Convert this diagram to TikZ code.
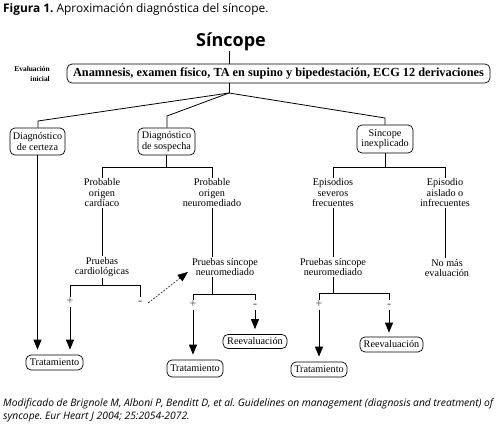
\documentclass[tikz,border=0pt]{standalone}
\usepackage{fontspec}
\setmainfont{Liberation Serif}
\newfontfamily\hsans{Open Sans}
\usetikzlibrary{arrows.meta,calc}
\frenchspacing
\begin{document}
\begin{tikzpicture}[x=1pt,y=-1pt,
  box/.style={draw,rounded corners=5pt,line width=0.7pt,align=center,inner sep=0pt,font=\fontsize{10.2}{10.5}\selectfont},
  lbl/.style={align=center,inner sep=1pt,font=\fontsize{10.2}{10.5}\selectfont},
  ln/.style={line width=0.8pt},
  arr/.style={line width=0.9pt,-{Triangle[width=8pt,length=10pt]}},
  pm/.style={inner sep=1pt,text height=6.5pt,text depth=1pt,font=\fontsize{12}{12}\selectfont,text=black!75}
]
\useasboundingbox (0,0) rectangle (499,430);
% title
\node[anchor=west,font=\hsans\fontsize{11.9}{13}\selectfont,inner sep=0pt] (title) at (3,9) {\textbf{Figura 1.} Aproximación diagnóstica del síncope.};
\node[font=\hsans\bfseries\fontsize{18}{18}\selectfont,inner sep=0pt] (sinc) at (231,42) {Síncope};
\node[anchor=east,align=right,font=\bfseries\fontsize{7.4}{9.5}\selectfont,inner sep=0pt] (evi) at (50,74) {Evaluación\\inicial};
\node[box,minimum width=423pt,minimum height=19pt,font=\bfseries\fontsize{12.3}{13}\selectfont] (main) at (278.5,73.5) {Anamnesis, examen físico, TA en supino y bipedestación, ECG 12 derivaciones};
% level 2
\node[box,minimum width=55pt,minimum height=27pt] (cert) at (37.5,141.5) {Diagnóstico\\de certeza};
\node[box,minimum width=57pt,minimum height=27pt] (sosp) at (166.5,141.5) {Diagnóstico\\de sospecha};
\node[box,minimum width=56pt,minimum height=28pt] (inex) at (385,139) {Síncope\\inexplicado};
% level 3
\node[lbl] (pcard) at (102,193) {Probable\\origen\\cardíaco};
\node[lbl] (pneuro) at (212,193) {Probable\\origen\\neuromediado};
\node[lbl] (epis) at (333,193) {Episodios\\severos\\frecuentes};
\node[lbl] (aisl) at (445,193) {Episodio\\aislado o\\infrecuentes};
% level 4
\node[lbl] (pcrd) at (102,267) {Pruebas\\cardiológicas};
\node[lbl] (pn1) at (225,267) {Pruebas síncope\\neuromediado};
\node[lbl] (pn2) at (333,267) {Pruebas síncope\\neuromediado};
\node[lbl] (nomas) at (447,268) {No más\\evaluación};
% plus / minus
\node[pm] (plus1) at (70,302) {+};
\node[pm] (minus1) at (140,302) {-};
\node[pm] (plus2) at (193,305) {+};
\node[pm] (minus2) at (255,305) {-};
\node[pm] (plus3) at (319,305) {+};
\node[pm] (minus3) at (389,305) {-};
% terminal boxes
\node[box,minimum width=57pt,minimum height=15pt] (trat1) at (54.5,362.5) {Tratamiento};
\node[box,minimum width=56pt,minimum height=17pt] (trat2) at (195,368.5) {Tratamiento};
\node[box,minimum width=64pt,minimum height=14pt] (reev1) at (255,341.5) {Reevaluación};
\node[box,minimum width=56pt,minimum height=15pt] (trat3) at (319,369.5) {Tratamiento};
\node[box,minimum width=63pt,minimum height=15pt] (reev2) at (391.5,344.5) {Reevaluación};
% caption
\node[anchor=north west,align=left,font=\hsans\itshape\fontsize{10.3}{13}\selectfont,inner sep=0pt] (cap) at (3,398) {\makebox[490pt][s]{Modificado de Brignole M, Alboni P, Benditt D, et al. Guidelines on management (diagnosis and treatment) of}\\syncope. Eur Heart J 2004; 25:2054-2072.};
% connectors
\draw[ln] (sinc.south -| 229,0) -- (229,0 |- main.north);
\coordinate (J) at (229,93);
\coordinate (cL) at (38,121);
\coordinate (cM) at (167,116);
\coordinate (cR) at (385,118);
\draw[ln] (J |- main.south) -- (J);
\draw[ln] (J) -- (cL) -- (cL |- cert.north);
\draw[ln] (J) -- (cM) -- (cM |- sosp.north);
\draw[ln] (J) -- (cR) -- (cR |- inex.north);
\coordinate (bs) at (166.5,167);
\draw[ln] (sosp.south) -- (bs);
\draw[ln] (pcard.north) -- (pcard.north |- bs) -- (pneuro.north |- bs) -- (pneuro.north);
\coordinate (bi) at (385,167);
\draw[ln] (inex.south) -- (bi);
\draw[ln] (epis.north) -- (epis.north |- bi) -- (aisl.north |- bi) -- (aisl.north);
\draw[ln] (pcard.south) -- (pcard.south |- pcrd.north);
\draw[ln] (pneuro.south) -- (pneuro.south |- pn1.north);
\draw[ln] (epis.south) -- (epis.south |- pn2.north);
\draw[ln] (aisl.south) -- (aisl.south |- nomas.north);
% under pruebas cardiologicas
\coordinate (bc) at (102,285);
\draw[ln] (pcrd.south) -- (bc);
\draw[ln] (plus1.north) -- (plus1.north |- bc) -- (minus1.north |- bc) -- (minus1.north);
\coordinate (bn1) at (212,294);
\draw[ln] (pneuro.south |- pn1.south) -- (bn1);
\draw[ln] (plus2.north) -- (plus2.north |- bn1) -- (minus2.north |- bn1) -- (minus2.north);
\coordinate (bn2) at (333,293);
\draw[ln] (pn2.south) -- (bn2);
\draw[ln] (plus3.north) -- (plus3.north |- bn2) -- (minus3.north |- bn2) -- (minus3.north);
% arrows
\draw[arr] (cert.south) -- ($(trat1.north -| cert.south)+(0,-5)$);
\draw[arr] (plus1.south) -- ($(trat1.north -| plus1.south)+(0,-5)$);
\draw[arr] (plus2.south) -- ($(trat2.north -| plus2.south)+(0,-5)$);
\draw[arr] (minus2.south) -- ($(reev1.north -| minus2.south)+(0,-5)$);
\draw[arr] (plus3.south) -- ($(trat3.north -| plus3.south)+(0,-5)$);
\draw[arr] (minus3.south) -- ($(reev2.north -| minus3.south)+(0,-4)$);
\draw[line width=0.5pt,dash pattern=on 2pt off 1.2pt,-{Triangle[width=8pt,length=10pt]}] ($(minus1.east)+(5,1)$) -- ($(pn1.west)+(-3,5)$);
\end{tikzpicture}
\end{document}
